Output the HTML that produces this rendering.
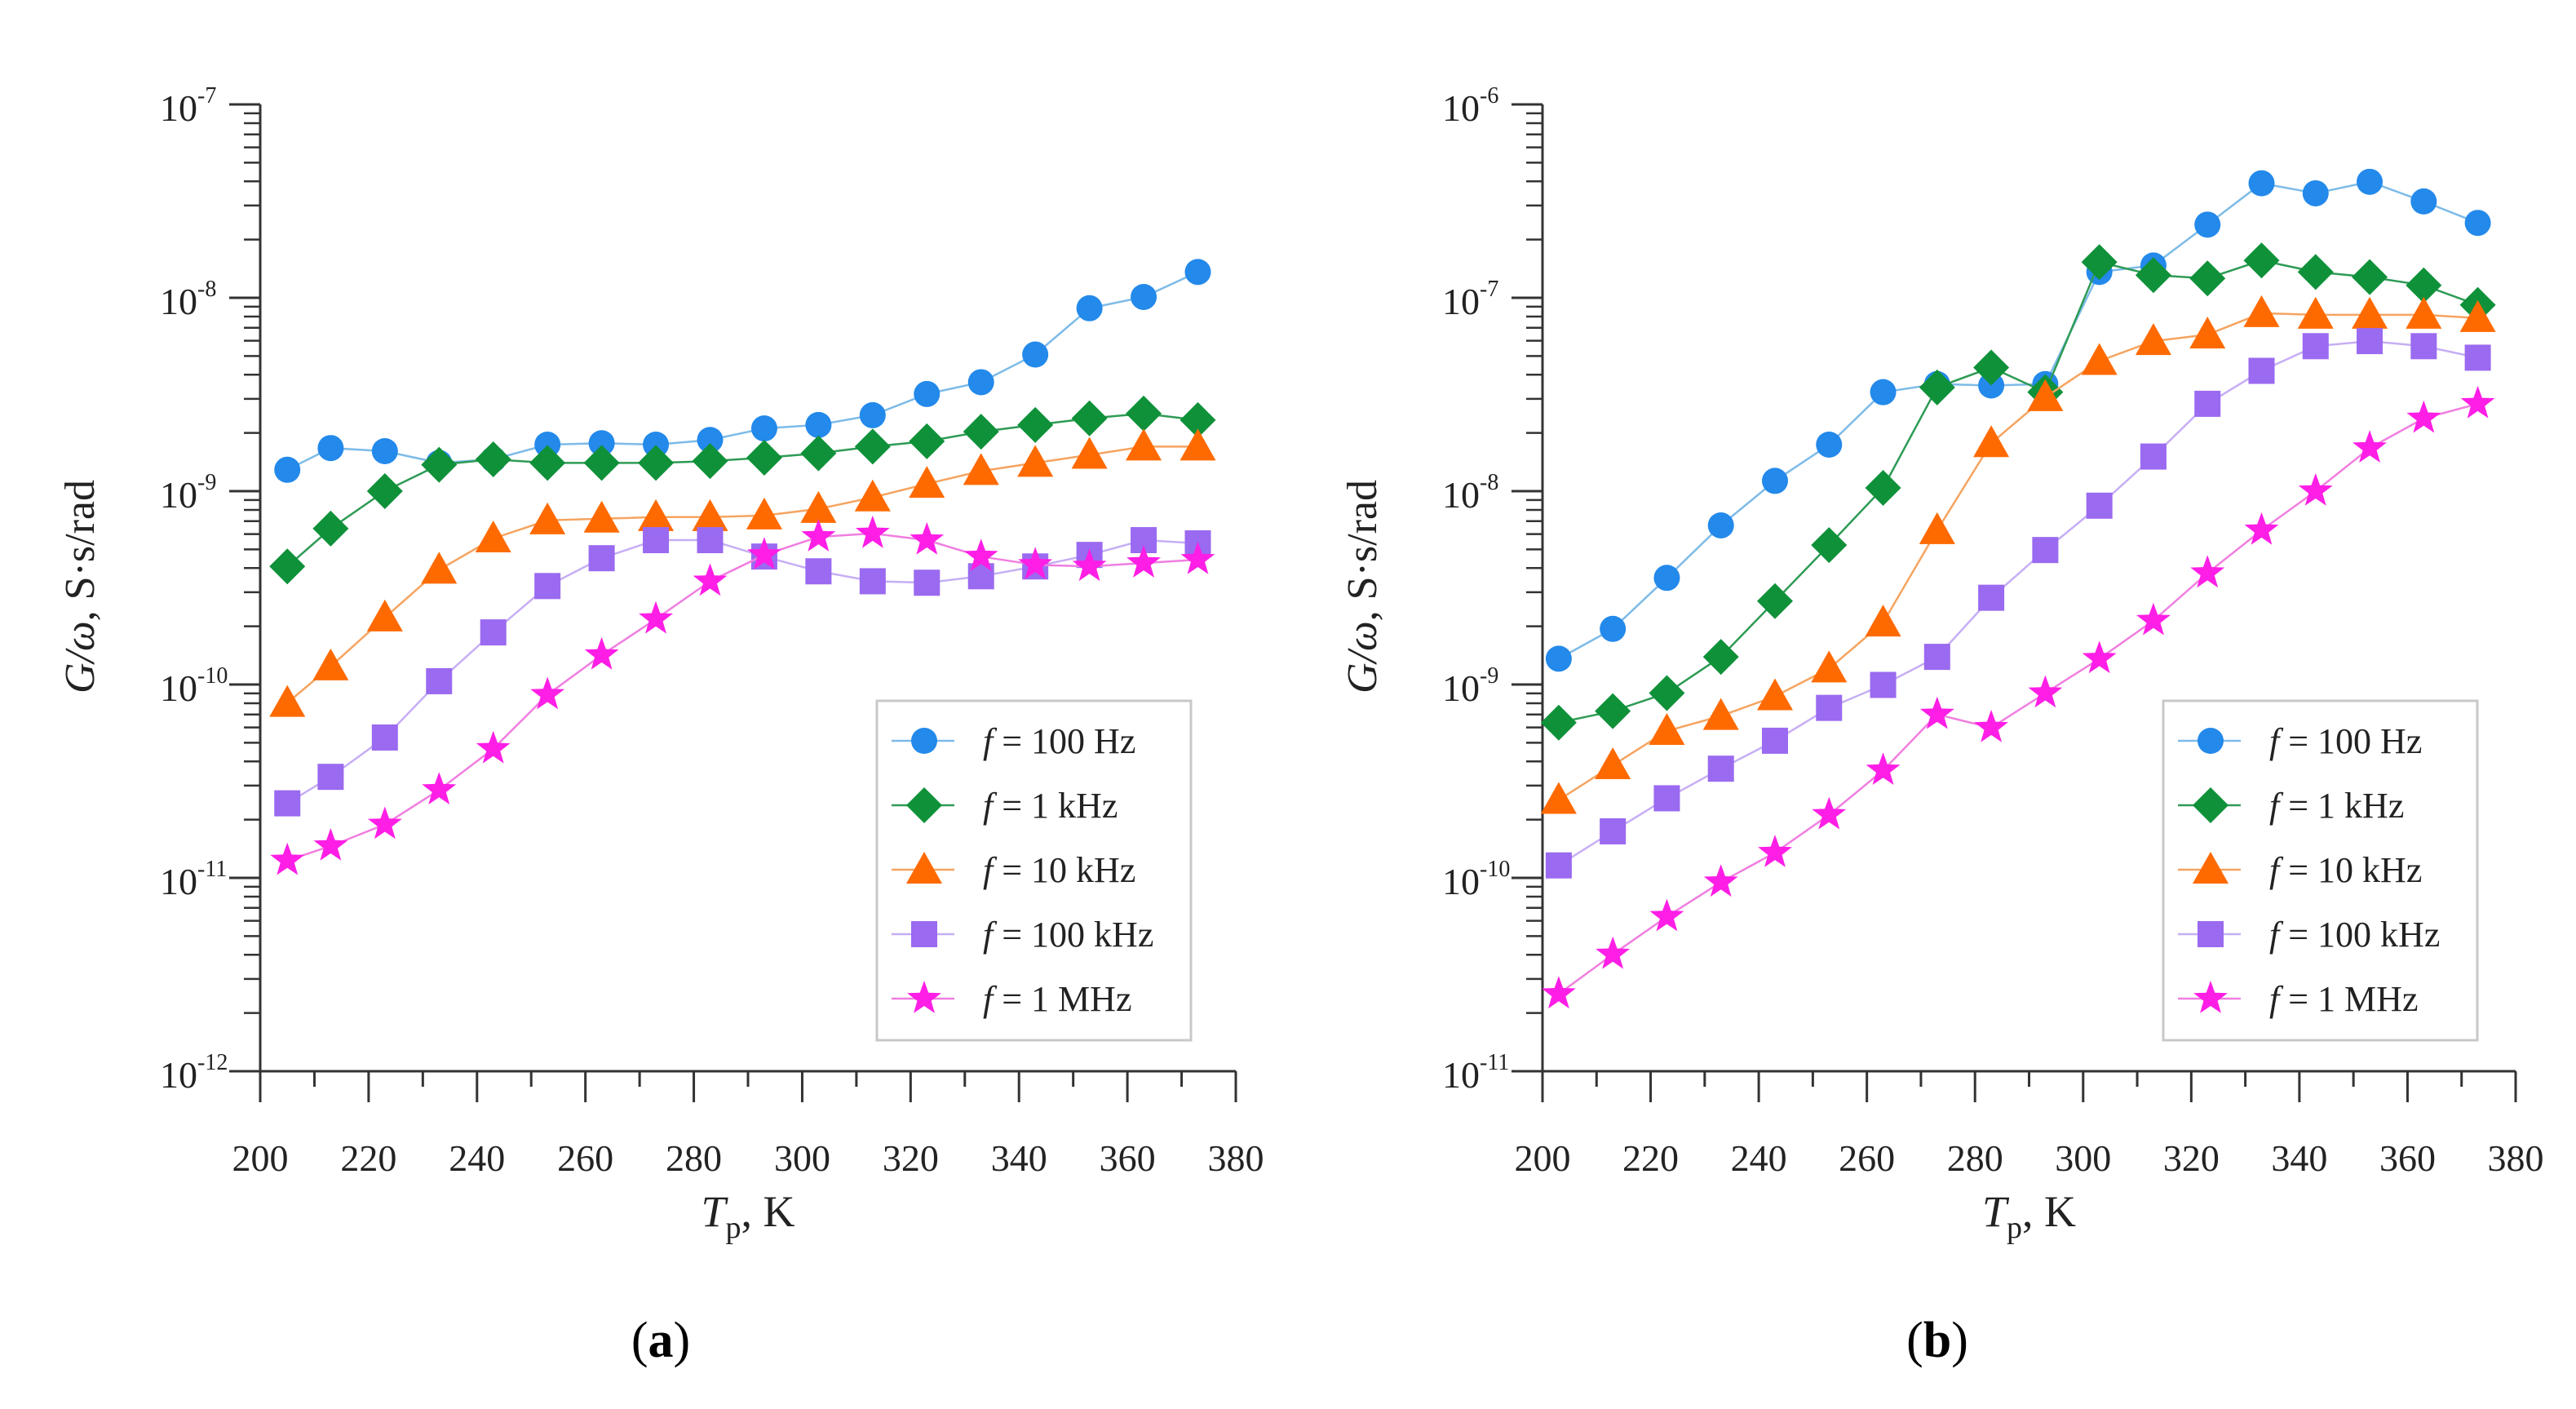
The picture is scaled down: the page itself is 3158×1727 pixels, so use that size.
<!DOCTYPE html>
<html><head><meta charset="utf-8"><style>
html,body{margin:0;padding:0;background:#fff;}
svg, svg text{font-family:"Liberation Serif","DejaVu Serif","Times New Roman",serif;}
svg{display:block;}
</style></head><body>
<svg id="fig" width="3158" height="1727" viewBox="0 0 3158 1727" xmlns="http://www.w3.org/2000/svg" font-family="Liberation Serif, DejaVu Serif, serif"></svg>
<script>
// ---- data ----
const tempsA = [205,213,223,233,243,253,263,273,283,293,303,313,323,333,343,353,363,373];
const tempsB = [203,213,223,233,243,253,263,273,283,293,303,313,323,333,343,353,363,373];
const seriesNames = ["f = 100 Hz","f = 1 kHz","f = 10 kHz","f = 100 kHz","f = 1 MHz"];
const xTicks = [200,220,240,260,280,300,320,340,360,380];
const a100Hz = [1.29e-9,1.67e-9,1.61e-9,1.40e-9,1.46e-9,1.74e-9,1.77e-9,1.74e-9,1.84e-9,2.11e-9,2.20e-9,2.47e-9,3.18e-9,3.66e-9,5.09e-9,8.83e-9,1.01e-8,1.36e-8];
const a1kHz = [4.08e-10,6.40e-10,1.00e-9,1.37e-9,1.46e-9,1.40e-9,1.40e-9,1.40e-9,1.43e-9,1.49e-9,1.57e-9,1.70e-9,1.81e-9,2.03e-9,2.20e-9,2.38e-9,2.52e-9,2.33e-9];
const a10kHz = [8.03e-11,1.24e-10,2.22e-10,3.92e-10,5.69e-10,7.06e-10,7.20e-10,7.34e-10,7.34e-10,7.48e-10,8.09e-10,9.28e-10,1.09e-9,1.27e-9,1.40e-9,1.54e-9,1.70e-9,1.70e-9];
const a100kHz = [2.43e-11,3.33e-11,5.32e-11,1.04e-10,1.86e-10,3.23e-10,4.50e-10,5.58e-10,5.58e-10,4.59e-10,3.85e-10,3.42e-10,3.36e-10,3.63e-10,4.08e-10,4.68e-10,5.58e-10,5.37e-10];
const a1MHz = [1.23e-11,1.46e-11,1.89e-11,2.85e-11,4.65e-11,8.86e-11,1.42e-10,2.18e-10,3.42e-10,4.68e-10,5.80e-10,6.04e-10,5.58e-10,4.59e-10,4.16e-10,4.08e-10,4.25e-10,4.42e-10];
const b100Hz = [1.36e-9,1.94e-9,3.56e-9,6.65e-9,1.13e-8,1.74e-8,3.25e-8,3.58e-8,3.52e-8,3.58e-8,1.36e-7,1.47e-7,2.39e-7,3.91e-7,3.47e-7,3.98e-7,3.15e-7,2.44e-7];
const b1kHz = [6.35e-10,7.28e-10,9.03e-10,1.39e-9,2.70e-9,5.26e-9,1.04e-8,3.44e-8,4.36e-8,3.25e-8,1.53e-7,1.31e-7,1.26e-7,1.56e-7,1.36e-7,1.28e-7,1.16e-7,9.18e-8];
const b10kHz = [2.53e-10,3.82e-10,5.75e-10,6.87e-10,8.69e-10,1.21e-9,2.09e-9,6.28e-9,1.77e-8,3.06e-8,4.71e-8,5.97e-8,6.45e-8,8.32e-8,8.16e-8,8.16e-8,8.16e-8,7.85e-8];
const b100kHz = [1.16e-10,1.74e-10,2.58e-10,3.67e-10,5.12e-10,7.57e-10,9.95e-10,1.39e-9,2.81e-9,4.96e-9,8.41e-9,1.51e-8,2.83e-8,4.19e-8,5.62e-8,5.97e-8,5.62e-8,4.90e-8];
const b1MHz = [2.51e-11,4.02e-11,6.30e-11,9.50e-11,1.35e-10,2.12e-10,3.60e-10,7.00e-10,5.98e-10,9.03e-10,1.36e-9,2.14e-9,3.77e-9,6.28e-9,1.00e-8,1.67e-8,2.38e-8,2.83e-8];
const expA = [-7,-8,-9,-10,-11,-12];
const expB = [-6,-7,-8,-9,-10,-11];

const NS="http://www.w3.org/2000/svg";
const svg=document.getElementById('fig');
const colors=["#2389ea","#0f913a","#ff6a00","#9a6af0","#ff1ee6"];
const lineColors=["#7dbbe8","#2e9b55","#f5a460","#c6aef5","#f07ee0"];
const shapes=["circle","diamond","triangle","square","star"];
const FF="Liberation Serif, DejaVu Serif, serif";
function el(tag,attrs,parent){const e=document.createElementNS(NS,tag);for(const k in attrs)e.setAttribute(k,attrs[k]);if(tag==='text')e.setAttribute('font-family',FF);(parent||svg).appendChild(e);return e;}

function marker(g,shape,cx,cy,color,s){
  let e;
  if(shape==="circle") e=el('circle',{cx:cx,cy:cy,r:16*s,fill:color},g);
  else if(shape==="diamond") e=el('polygon',{points:`${cx},${cy-22*s} ${cx+22*s},${cy} ${cx},${cy+22*s} ${cx-22*s},${cy}`,fill:color},g);
  else if(shape==="triangle") e=el('polygon',{points:`${cx},${cy-22*s} ${cx+22*s},${cy+17*s} ${cx-22*s},${cy+17*s}`,fill:color},g);
  else if(shape==="square") e=el('rect',{x:cx-16*s,y:cy-16*s,width:32*s,height:32*s,fill:color},g);
  else {let p=[];for(let i=0;i<10;i++){const r=(i%2?9:22)*s;const a=-Math.PI/2+i*Math.PI/5;p.push((cx+r*Math.cos(a)).toFixed(1)+","+(cy+r*Math.sin(a)).toFixed(1));}
    e=el('polygon',{points:p.join(' '),fill:color},g);}
  return e;
}

function panel(id,x0,x1,y0,y1,exps,temps,data,legX,label){
  const g=el('g',{});
  
  
  const topE=exps[0], botE=exps[exps.length-1];
  const xs=t=>x0+(t-200)/180*(x1-x0);
  const ys=v=>y0+(topE-Math.log10(v))/(topE-botE)*(y1-y0);
  const ax=el('g',{stroke:"#333","stroke-width":3},g);
  
  
  el('line',{x1:x0,y1:y0,x2:x0,y2:y1+38},ax);
  el('line',{x1:x0-38,y1:y1,x2:x1,y2:y1},ax);
  exps.forEach((e,i)=>{
    const yy=ys(Math.pow(10,e));
    el('line',{x1:x0-38,y1:yy,x2:x0,y2:yy},ax);
    if(i<exps.length-1){for(let m=2;m<=9;m++){const ym=ys(m*Math.pow(10,e-1));el('line',{x1:x0-20,y1:ym,x2:x0,y2:ym,"stroke-width":2.5},ax);}}
    const t=el('text',{x:x0-77,y:yy+20,"font-size":46,"text-anchor":"end",fill:"#222"},g);
    
    
    t.textContent="10";
    const sup=el('text',{x:x0-77,y:yy-2,"font-size":28,"text-anchor":"start",fill:"#222"},g);
    sup.textContent=String(e);
  });
  xTicks.forEach((v,i)=>{
    const xx=xs(v);
    el('line',{x1:xx,y1:y1,x2:xx,y2:y1+38},ax);
    if(i<xTicks.length-1){const xm=xs(v+10);el('line',{x1:xm,y1:y1,x2:xm,y2:y1+19},ax);}
    const t=el('text',{x:xx,y:1435,"font-size":46,"text-anchor":"middle",fill:"#222"},g);
    
    
    t.textContent=v;
  });
  data.forEach((arr,si)=>{
    const sg=el('g',{},g);
    
    
    const pts=arr.map((v,i)=>xs(temps[i]).toFixed(1)+","+ys(v).toFixed(1)).join(' ');
    el('polyline',{points:pts,fill:"none",stroke:lineColors[si],"stroke-width":2.5},sg);
    arr.forEach((v,i)=>{const m=marker(sg,shapes[si],xs(temps[i]),ys(v),colors[si],1);
      
      });
  });
  const lg=el('g',{},g);
  
  
  el('rect',{x:legX,y:859,width:385,height:416,fill:"#fff",stroke:"#c8c8c8","stroke-width":3},lg);
  seriesNames.forEach((n,si)=>{
    const yy=908+si*79;
    const en=el('g',{},lg);
    
    
    el('line',{x1:legX+18,y1:yy,x2:legX+95,y2:yy,stroke:lineColors[si],"stroke-width":2.5},en);
    marker(en,shapes[si],legX+58,yy,colors[si],1);
    const t=el('text',{x:legX+130,y:yy+15,"font-size":44,fill:"#222"},en);
    const it=el('tspan',{"font-style":"italic"},t);it.textContent="f";
    const rest=el('tspan',{},t);rest.textContent=" = "+n.slice(4);
  });
  const xt=el('text',{x:(x0+x1)/2,y:1503,"font-size":54,"text-anchor":"middle",fill:"#222"},g);
  
  
  const t1=el('tspan',{"font-style":"italic"},xt);t1.textContent="T";
  const t2=el('tspan',{"font-size":38,dy:14},xt);t2.textContent="p";
  const t3=el('tspan',{dy:-14},xt);t3.textContent=", K";
  const ycx=x0-222;
  const yt=el('text',{x:ycx,y:719,"font-size":52,"text-anchor":"middle",fill:"#222",transform:`rotate(-90 ${ycx} 719)`,dy:18},g);
  
  
  const y1t=el('tspan',{"font-style":"italic"},yt);y1t.textContent="G/ω";
  const y2t=el('tspan',{},yt);y2t.textContent=", S·s/rad";
  const pl=el('text',{x:label[0],y:1663,"font-size":62,"text-anchor":"middle",fill:"#000"},g);
  
  
  const p1=el('tspan',{},pl);p1.textContent="(";
  const p2=el('tspan',{"font-weight":"bold"},pl);p2.textContent=label[1];
  const p3=el('tspan',{},pl);p3.textContent=")";
}
panel('a',319,1515,128,1313,expA,tempsA,[a100Hz,a1kHz,a10kHz,a100kHz,a1MHz],1075,[810,'a']);
panel('b',1891,3084,128,1313,expB,tempsB,[b100Hz,b1kHz,b10kHz,b100kHz,b1MHz],2652,[2375,'b']);
</script>
</body></html>
